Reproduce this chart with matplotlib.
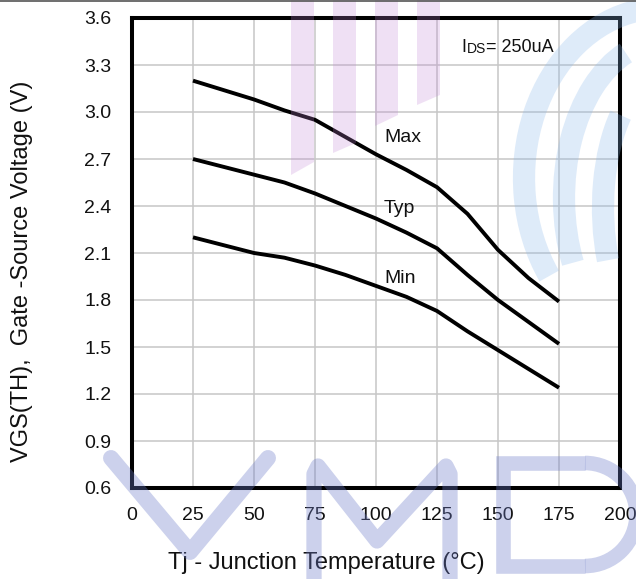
import matplotlib
matplotlib.use("Agg")
import matplotlib.pyplot as plt
from matplotlib.patches import Polygon, Arc
from matplotlib.lines import Line2D

# VGS(TH) vs junction temperature, IDS = 250uA
tj = [25, 37.5, 50, 62.5, 75, 87.5, 100, 112.5, 125, 137.5, 150, 162.5, 175]
vth_max = [3.20, 3.14, 3.08, 3.01, 2.95, 2.84, 2.73, 2.63, 2.52, 2.35, 2.12, 1.94, 1.79]
vth_typ = [2.70, 2.65, 2.60, 2.55, 2.48, 2.40, 2.32, 2.23, 2.13, 1.96, 1.80, 1.66, 1.52]
vth_min = [2.20, 2.15, 2.10, 2.07, 2.02, 1.96, 1.89, 1.82, 1.73, 1.60, 1.48, 1.36, 1.24]

curve_names = ["Max", "Typ", "Min"]
label_pos = [(103.5, 2.81), (103.0, 2.355), (103.3, 1.91)]

x_ticks = [0, 25, 50, 75, 100, 125, 150, 175, 200]
y_ticks = [0.6, 0.9, 1.2, 1.5, 1.8, 2.1, 2.4, 2.7, 3.0, 3.3, 3.6]

plt.rcParams['font.family'] = ['Liberation Sans', 'DejaVu Sans']
narrow = ['Liberation Sans Narrow', 'Liberation Sans', 'DejaVu Sans']

fig = plt.figure(figsize=(6.36, 5.79), dpi=100)
ax = fig.add_axes([132 / 636, 1 - 488 / 579, 488 / 636, 470 / 579])

for vals in (vth_max, vth_typ, vth_min):
    ax.plot(tj, vals, color='black', lw=2.8, solid_joinstyle='round',
            solid_capstyle='butt', zorder=3)

for name, (lx, ly) in zip(curve_names, label_pos):
    ax.text(lx, ly, name, fontsize=14, family=narrow, ha='left', va='baseline',
            color='#111111', zorder=4)

# IDS= 250uA, with "DS" drawn smaller
t1 = ax.text(135.0, 3.357, 'I', fontsize=13, ha='left', va='bottom', color='#111111')
t2 = ax.annotate('DS', xy=(1, 0), xycoords=t1, fontsize=10, ha='left', va='bottom',
                 color='#111111')
ax.annotate('= 250uA', xy=(1, 0), xycoords=t2, fontsize=13, ha='left', va='bottom',
            color='#111111')

ax.set_xlim(0, 200)
ax.set_ylim(0.6, 3.6)
ax.set_xticks(x_ticks)
ax.set_yticks(y_ticks)
ax.set_xticklabels([str(v) for v in x_ticks], family=narrow, fontsize=14)
ax.set_yticklabels([f'{v:.1f}' for v in y_ticks], family=narrow, fontsize=14)
ax.tick_params(length=0, colors='#111111')
ax.tick_params(axis='y', pad=15)
ax.tick_params(axis='x', pad=13.5)
ax.grid(True, color='#c6c6c6', lw=1.1)
ax.set_axisbelow(True)
for s in ax.spines.values():
    s.set_linewidth(2.9)
    s.set_color('black')

ax.set_xlabel('Tj - Junction Temperature (°C)', fontsize=17, color='#111111',
              va='center')
ax.xaxis.set_label_coords((326 - 132) / 488, (488 - 563) / 470)
ax.set_ylabel('VGS(TH),  Gate -Source Voltage (V)', fontsize=17, color='#111111',
              va='center', ha='center')
ax.yaxis.set_label_coords((22 - 132) / 488, (488 - 271) / 470)

# faint logo watermark, drawn in pixel space over the chart
wm = fig.add_axes([0, 0, 1, 1], zorder=5)
wm.set_xlim(0, 636)
wm.set_ylim(579, 0)
wm.axis('off')
wm.patch.set_alpha(0)

lav = (109 / 255, 124 / 255, 201 / 255)
pur = (195 / 255, 135 / 255, 212 / 255)
blu = (138 / 255, 184 / 255, 235 / 255)

wm.add_line(Line2D([111, 190, 268], [458, 552, 458], color=lav, alpha=0.35, lw=11.5,
                   solid_capstyle='round', solid_joinstyle='round'))
wm.add_line(Line2D([314, 314, 318, 377, 446, 450, 450], [600, 474, 466, 541, 466, 474, 600],
                   color=lav, alpha=0.35, lw=11, solid_capstyle='round',
                   solid_joinstyle='round'))
wm.add_line(Line2D([585, 503, 503, 585], [463, 463, 566, 566], color=lav, alpha=0.35,
                   lw=10.5, solid_capstyle='butt', solid_joinstyle='miter'))
wm.add_patch(Arc((585, 514.5), 103, 103, theta1=-90, theta2=90, color=lav, alpha=0.35,
                 lw=10.5))

for x0, yl, yr in [(291, 175, 162), (333, 153, 143), (375, 126, 115), (417, 105, 95)]:
    wm.add_patch(Polygon([(x0, 0), (x0 + 23, 0), (x0 + 23, yr), (x0, yl)],
                         closed=True, color=pur, alpha=0.25, lw=0))

for cx, cy, w, h, a1, a2 in [(662, 178, 276, 340, 139, 262), (662, 198, 196, 312, 144, 256),
                             (662, 208, 118, 260, 136, 246)]:
    wm.add_patch(Arc((cx, cy), w, h, theta1=a1, theta2=a2, color=blu, alpha=0.28, lw=16))

wm.add_line(Line2D([0, 636], [0.5, 0.5], color='#555555', lw=1.2))

fig.savefig('out.png', dpi=100, facecolor='white')
